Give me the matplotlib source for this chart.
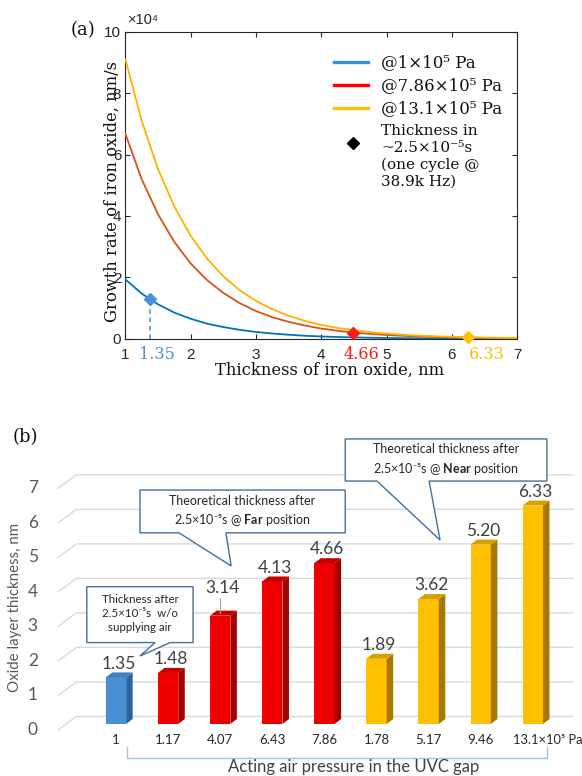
import numpy as np
import matplotlib
matplotlib.use("Agg")
import matplotlib.pyplot as plt
from matplotlib.patches import Polygon
from matplotlib.lines import Line2D

plt.rcParams["mathtext.fontset"] = "custom"
plt.rcParams["mathtext.rm"] = "Lato"
plt.rcParams["mathtext.bf"] = "Lato:bold"
plt.rcParams["mathtext.it"] = "Lato:italic"

# ---------------- data: panel (a) ----------------
thickness = [1.0, 1.25, 1.5, 1.75, 2.0, 2.25, 2.5, 2.75, 3.0, 3.25, 3.5, 3.75, 4.0,
             4.25, 4.5, 4.75, 5.0, 5.25, 5.5, 5.75, 6.0, 6.25, 6.5, 6.75, 7.0]
rate_1 = [1.93, 1.47, 1.12, 0.85, 0.65, 0.49, 0.38, 0.29, 0.22, 0.17, 0.13, 0.096, 0.073,
          0.056, 0.043, 0.032, 0.025, 0.019, 0.014, 0.011, 0.008, 0.006, 0.005, 0.004, 0.003]
rate_786 = [6.67, 5.19, 4.05, 3.15, 2.45, 1.91, 1.49, 1.16, 0.90, 0.70, 0.55, 0.43, 0.33,
            0.26, 0.20, 0.157, 0.122, 0.095, 0.074, 0.058, 0.045, 0.035, 0.027, 0.021, 0.017]
rate_131 = [9.10, 7.09, 5.52, 4.30, 3.35, 2.61, 2.03, 1.58, 1.23, 0.96, 0.75, 0.58, 0.45,
            0.35, 0.28, 0.21, 0.17, 0.13, 0.10, 0.079, 0.061, 0.048, 0.037, 0.029, 0.023]
series_labels = ["@1×10⁵ Pa", "@7.86×10⁵ Pa", "@13.1×10⁵ Pa"]
marker_x = [1.38, 4.49, 6.24]
marker_y = [1.29, 0.20, 0.065]
marker_text = ["1.35", "4.66", "6.33"]
marker_label = "Thickness in\n~2.5×10⁻⁵s\n(one cycle @\n38.9k Hz)"

# ---------------- data: panel (b) ----------------
pressures = ["1", "1.17", "4.07", "6.43", "7.86", "1.78", "5.17", "9.46", "13.1"]
oxide = [1.35, 1.48, 3.14, 4.13, 4.66, 1.89, 3.62, 5.20, 6.33]
groups = ["none", "far", "far", "far", "far", "near", "near", "near", "near"]
yticks_b = [0, 1, 2, 3, 4, 5, 6, 7]

# ---------------- styles ----------------
SERIF = ["DejaVu Serif"]
SANS = ["Liberation Sans", "DejaVu Sans"]
CAL = ["Lato", "DejaVu Sans"]
curve_colors = ["#0072BD", "#D95319", "#FFB000"]
legend_colors = ["#3d8fdc", "#ff0000", "#ffc000"]
mark_colors = ["#4a90d9", "#ff1a1a", "#ffc000"]
bar_cols = {"none": ("#4a8fd2", "#2b62a0", "#3f7fc0"),
            "far": ("#ee0000", "#a40000", "#c60000"),
            "near": ("#ffc000", "#a87800", "#d6a000")}

fig = plt.figure(figsize=(5.82, 7.76), dpi=100)

# ======================= panel (a) =======================
ax = fig.add_axes([0.2155, 0.5635, 0.6732, 0.3956])
for ys, c in zip([rate_1, rate_786, rate_131], curve_colors):
    ax.plot(thickness, ys, color=c, lw=1.3, zorder=3)
ax.set_xlim(1, 7)
ax.set_ylim(0, 10)
ax.set_xticks([1, 2, 3, 4, 5, 6, 7])
ax.set_yticks([0, 2, 4, 6, 8, 10])
ax.tick_params(direction="in", top=True, right=True, length=3.5, width=0.8,
               colors="#262626", labelsize=11, pad=3)
ax.tick_params(axis="x", pad=7)
for lab in ax.get_xticklabels() + ax.get_yticklabels():
    lab.set_family(SANS)
for s in ax.spines.values():
    s.set_color("#262626")
    s.set_linewidth(0.8)

# markers
ax.plot([marker_x[0], marker_x[0]], [0, marker_y[0]], ls=(0, (3, 2.5)), color=mark_colors[0], lw=1.1, zorder=2)
ax.plot([marker_x[1], marker_x[1]], [0, marker_y[1]], color=mark_colors[1], lw=1.0, zorder=2)
for mx, my, c in zip(marker_x, marker_y, mark_colors):
    ax.plot(mx, my, marker="D", ms=6.5, color=c, mec=c, zorder=5, clip_on=False)
# coloured thickness values under the axis
offs = [0.10, 0.13, 0.29]
for mx, t, c, o in zip(marker_x, marker_text, mark_colors, offs):
    ax.text(mx + o, -0.053, t, transform=ax.get_xaxis_transform(), ha="center", va="center",
            color=c, fontsize=11.5, family=SERIF)

ax.text(-0.034, 0.478, "Growth rate of iron oxide, nm/s", transform=ax.transAxes, rotation=90,
        ha="center", va="center", fontsize=11.8, family=SERIF, color="#111111")
ax.text(0.522, -0.102, "Thickness of iron oxide, nm", transform=ax.transAxes,
        ha="center", va="center", fontsize=11.8, family=SERIF, color="#111111")
ax.text(0.007, 1.038, "×10⁴", transform=ax.transAxes, ha="left", va="center",
        fontsize=10.5, family=SANS, color="#262626")
ax.text(-0.108, 1.006, "(a)", transform=ax.transAxes, ha="center", va="center",
        fontsize=13, family=SERIF, color="#111111")

# legend (drawn manually)
leg_y = [0.901, 0.826, 0.751]
for yy, c, lab in zip(leg_y, legend_colors, series_labels):
    ax.add_line(Line2D([0.532, 0.619], [yy, yy], transform=ax.transAxes, color=c, lw=2.4))
    ax.text(0.652, yy, lab, transform=ax.transAxes, ha="left", va="center",
            fontsize=12, family=SERIF, color="#111111")
ax.add_line(Line2D([0.581], [0.637], transform=ax.transAxes, marker="D", ms=6, color="black", ls="none"))
ax.text(0.652, 0.700, marker_label, transform=ax.transAxes, ha="left", va="top",
        fontsize=11, family=SERIF, color="#111111", linespacing=1.25)

# ======================= panel (b) =======================
bx = fig.add_axes([0.0, 0.067, 1.0, 0.3780])
bx.set_xlim(-2.226, 8.944)
bx.set_ylim(0, 8.5)
bx.axis("off")

back_dy = 0.22
front_dy = -0.17
x_front, x_back, x_right = -1.11, -0.76, 8.77
for v in yticks_b:
    bx.plot([x_front, x_back, x_right], [v + front_dy, v + back_dy, v + back_dy],
            color="#d9d9d9", lw=1.0, zorder=1, clip_on=False)
    bx.text(-1.50, v + front_dy, str(v), ha="right", va="center", fontsize=12.5,
            family=CAL, color="#595959")

w = 0.39
dx, dy = 0.125, 0.145
xs = np.arange(len(oxide))
front_cols = [bar_cols[g][0] for g in groups]
bx.bar(xs, oxide, width=w, color=front_cols, zorder=3)
for x, v, g in zip(xs, oxide, groups):
    fc, sc, tc = bar_cols[g]
    bx.add_patch(Polygon([(x + w / 2, 0), (x + w / 2 + dx, dy), (x + w / 2 + dx, v + dy), (x + w / 2, v)],
                         closed=True, facecolor=sc, edgecolor="none", zorder=3))
    bx.add_patch(Polygon([(x - w / 2, v), (x - w / 2 + dx, v + dy), (x + w / 2 + dx, v + dy), (x + w / 2, v)],
                         closed=True, facecolor=tc, edgecolor="none", zorder=3))

for x, v in zip(xs, oxide):
    yy = v + 0.40
    if abs(v - 3.14) < 1e-9:
        bx.plot([x, x], [v + 0.08, v + 0.50], color="#a6a6a6", lw=0.8, zorder=4)
        yy = v + 0.79
    bx.text(x + 0.05, yy, f"{v:.2f}", ha="center", va="center", fontsize=12.5,
            family=CAL, color="#404040", zorder=6)

for x, p in zip(xs, pressures):
    if x == len(pressures) - 1:
        bx.text(x - 0.38, -0.46, p + "×10⁵ Pa", ha="left", va="center", fontsize=9.3,
                family=CAL, color="#262626", clip_on=False)
    else:
        bx.text(x, -0.46, p, ha="center", va="center", fontsize=9.5, family=CAL, color="#262626")

# bracket under tick labels
bx.plot([0.21, 0.21, 8.27, 8.27], [-0.67, -0.99, -0.99, -0.67], color="#9dc3e6", lw=1.0, clip_on=False)
bx.text(4.57, -1.25, "Acting air pressure in the UVC gap", ha="center", va="center",
        fontsize=12, family=CAL, color="#404040", clip_on=False)
bx.text(-1.94, 3.39, "Oxide layer thickness, nm", rotation=90, ha="center", va="center",
        fontsize=10.8, family=CAL, color="#595959")
bx.text(-1.73, 8.32, "(b)", ha="center", va="center", fontsize=13, family=SERIF, color="#111111")


def callout(x0, x1, y0, y1, t0, t1, tip):
    verts = [(x0, y1), (x1, y1), (x1, y0), (t1, y0), tip, (t0, y0), (x0, y0)]
    bx.add_patch(Polygon(verts, closed=True, facecolor="white", edgecolor="#41719c",
                         lw=1.0, zorder=7, clip_on=False))


callout(-0.56, 1.48, 2.36, 3.98, 0.75, 1.04, (0.46, 1.97))
bx.text(0.46, 3.20, "Thickness after\n2.5×10⁻⁵s  w/o\nsupplying air", ha="center", va="center",
        fontsize=8.3, family=CAL, color="#262626", linespacing=1.35, zorder=8)
callout(0.46, 4.40, 5.54, 6.78, 1.21, 2.11, (2.21, 4.58))
bx.text(2.43, 6.16, "Theoretical thickness after\n2.5×10⁻⁵s @ $\\mathbf{Far}$ position", ha="center",
        va="center", fontsize=9, family=CAL, color="#262626", linespacing=1.45, zorder=8)
callout(4.40, 8.27, 7.04, 8.26, 5.01, 6.01, (6.22, 5.33))
bx.text(6.33, 7.65, "Theoretical thickness after\n2.5×10⁻⁵s @ $\\mathbf{Near}$ position", ha="center",
        va="center", fontsize=9, family=CAL, color="#262626", linespacing=1.45, zorder=8)

fig.savefig("out.png", dpi=100)
